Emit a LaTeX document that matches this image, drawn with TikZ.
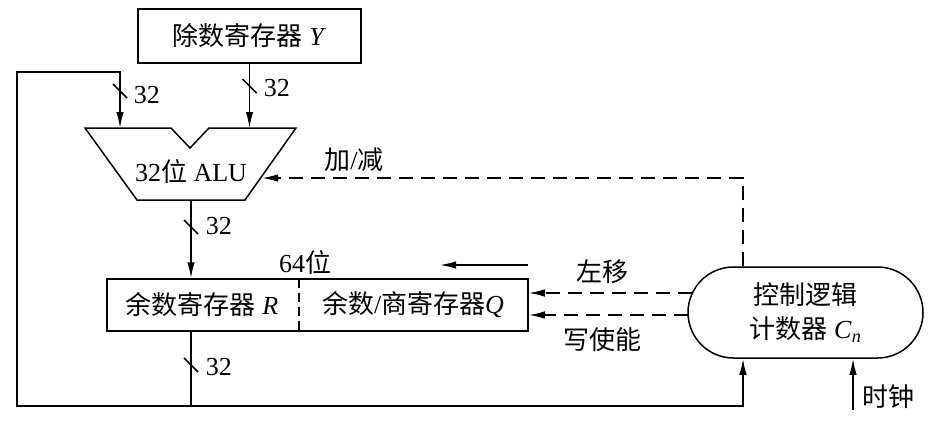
\documentclass[tikz,border=0pt]{standalone}
\usepackage{fontspec}
\setmainfont{Liberation Serif}
\newfontfamily\cjk{Noto Sans CJK SC}
\usetikzlibrary{arrows.meta,shapes.misc}
\newcommand{\zh}[1]{{\cjk\fontsize{26}{30}\selectfont #1}}
\begin{document}
\begin{tikzpicture}[x=1pt,y=-1pt,line width=1.5pt,
  every node/.style={font=\fontsize{26}{34}\selectfont,inner sep=0pt},
  box/.style={draw,rectangle},
  arr/.style={-{Latex[length=16pt,width=7.5pt]}},
  dsh/.style={dash pattern=on 14pt off 8pt},
  divdash/.style={dash pattern=on 9pt off 5pt},
  lbl/.style={anchor=west}]
\useasboundingbox (0,0) rectangle (929,424);
% divisor register
\node[box,minimum width=223pt,minimum height=54pt] (Y) at (249.5,36) {\zh{除数寄存器} \textit{Y}};
% ALU
\draw (85,128) -- (171,128) -- (190,148) -- (209,128) -- (296,128) -- (245,200) -- (137,200) -- cycle;
\node (alu) at (191,171) {32\zh{位} ALU};
\coordinate (aluL) at (120,128);
\coordinate (aluR) at (249.5,128);
\coordinate (aluO) at (191,200);
\coordinate (aluC) at (262,178);
% remainder register
\node[box,minimum width=421pt,minimum height=52pt] (reg) at (317.5,305) {};
\draw[divdash] (299,279) -- (299,331);
\node (rR) at (202,305) {\zh{余数寄存器} \textit{R}};
\node (rQ) at (413,305) {\zh{余数}/\zh{商寄存器}\textit{Q}};
\node (w64) at (305,262) {64\zh{位}};
% control capsule
\node[draw,rounded rectangle,minimum width=235pt,minimum height=91pt,align=center] (cap) at (805.5,312.5) {\zh{控制逻辑}\\\zh{计数器} \textit{C}\textsubscript{\textit{n}}};
% coordinates
\coordinate (bj) at (191,406);
\coordinate (bl) at (17,406);
\coordinate (tl) at (17,72);
\coordinate (ti) at (120,72);
\coordinate (cx) at (743,406);
\coordinate (ct) at (743,178);
\coordinate (c1) at (692,293);
\coordinate (c2) at (688,315);
\coordinate (s1) at (528,265);
\coordinate (s2) at (440,265);
\coordinate (clk) at (853,410);
% connectors
\draw[arr] (Y.south) -- (aluR);
\draw[arr] (aluO) -- (reg.north -| aluO);
\draw[arr] (reg.south -| aluO) -- (bj) -- (bl) -- (tl) -- (ti) -- (aluL);
\draw[arr] (bj) -- (cx) -- (cx |- cap.south);
\draw[arr,dsh] (cx |- cap.north) -- (ct) -- (aluC);
\draw[arr,dsh] (c1) -- (c1 -| reg.east);
\draw[arr,dsh] (c2) -- (c2 -| reg.east);
\draw[arr] (s1) -- (s2);
\draw[arr] (clk) -- (clk |- cap.south);
% bus width marks
\draw (113,84) -- (127,98);
\draw (242.5,79) -- (256.5,93);
\draw (184,220) -- (198,234);
\draw (184,358) -- (198,372);
\node[lbl] (n1) at (133,95) {32};
\node[lbl] (n2) at (263,88) {32};
\node[lbl] (n3) at (205,226) {32};
\node[lbl] (n4) at (205,367) {32};
% labels
\node (as) at (354,160) {\zh{加}/\zh{减}};
\node (ls) at (602,272) {\zh{左移}};
\node (we) at (602,340) {\zh{写使能}};
\node[lbl] (ck) at (862,397) {\zh{时钟}};
\end{tikzpicture}
\end{document}
